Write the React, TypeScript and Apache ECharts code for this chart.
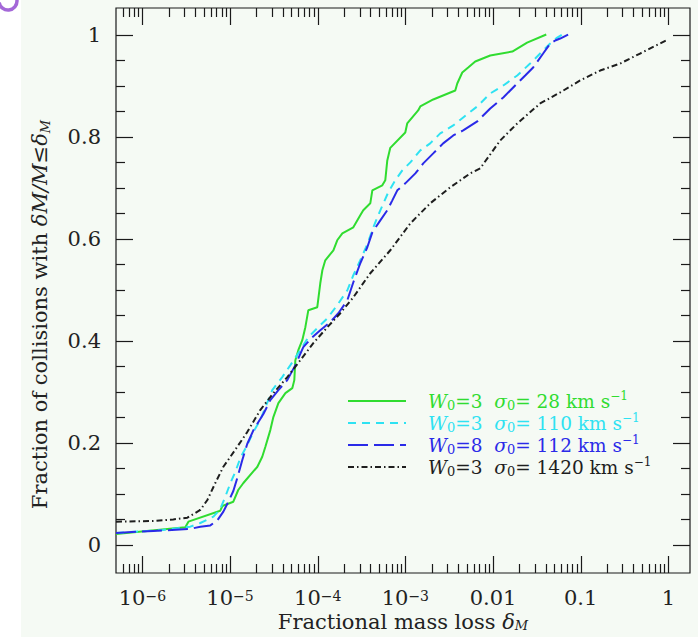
import React, { useEffect, useRef } from 'react';
import * as echarts from 'echarts';

const FONT = 'DejaVu Serif';

// ---- data (x: fractional mass loss, y: cumulative fraction) ----
const greenX = [5e-7, 3.09e-6, 3.35e-6, 7.74e-6, 8.17e-6, 1.09e-5, 1.24e-5, 1.42e-5, 2.05e-5, 2.33e-5, 2.53e-5, 2.88e-5, 3.12e-5, 3.56e-5, 4.28e-5, 5.13e-5, 5.41e-5, 5.56e-5, 6.01e-5, 6.67e-5, 7.23e-5, 7.82e-5, 9.89e-5, 1.07e-4, 1.13e-4, 1.22e-4, 1.51e-4, 1.67e-4, 1.91e-4, 2.55e-4, 3.06e-4, 3.31e-4, 3.98e-4, 4.2e-4, 5.46e-4, 5.9e-4, 6.22e-4, 6.73e-4, 9.98e-4, 1.05e-3, 1.4e-3, 1.48e-3, 2.08e-3, 3.71e-3, 3.91e-3, 4.46e-3, 5.21e-3, 6.27e-3, 9.29e-3, 0.0166, 0.0245, 0.0405];
const greenY = [0.0215, 0.0346, 0.0456, 0.0671, 0.0763, 0.0847, 0.1076, 0.1213, 0.1532, 0.1728, 0.1924, 0.225, 0.2505, 0.2779, 0.2975, 0.3072, 0.3229, 0.362, 0.3816, 0.4012, 0.4266, 0.4599, 0.4658, 0.5127, 0.5382, 0.5577, 0.5773, 0.5969, 0.6106, 0.6223, 0.6458, 0.6556, 0.6693, 0.6947, 0.7045, 0.7143, 0.7534, 0.778, 0.8082, 0.8258, 0.8513, 0.8591, 0.8728, 0.8904, 0.9041, 0.9256, 0.9354, 0.9472, 0.9589, 0.9667, 0.9843, 1.0];

const cyanX = [5e-7, 1.73e-6, 3.52e-6, 4.58e-6, 6.46e-6, 7.74e-6, 8.83e-6, 1.01e-5, 1.15e-5, 1.31e-5, 1.57e-5, 1.85e-5, 2.21e-5, 3.03e-5, 3.94e-5, 4.88e-5, 6.34e-5, 7.82e-5, 9.89e-5, 1.29e-4, 1.67e-4, 2.18e-4, 2.55e-4, 3.06e-4, 3.68e-4, 4.31e-4, 5.18e-4, 6.38e-4, 7.67e-4, 9.23e-4, 1.14e-3, 1.48e-3, 1.92e-3, 2.5e-3, 3.52e-3, 4.57e-3, 6.61e-3, 9.29e-3, 0.0131, 0.0189, 0.0265, 0.0345, 0.0449, 0.054, 0.0615];
const cyanY = [0.0235, 0.0294, 0.0358, 0.043, 0.0554, 0.0704, 0.0945, 0.1213, 0.1434, 0.1703, 0.1957, 0.2217, 0.2446, 0.3033, 0.3288, 0.3523, 0.3816, 0.407, 0.4247, 0.4442, 0.4697, 0.499, 0.5284, 0.5577, 0.589, 0.6223, 0.6556, 0.6908, 0.7143, 0.7339, 0.7495, 0.773, 0.7867, 0.8063, 0.8219, 0.8376, 0.8591, 0.8845, 0.9002, 0.9198, 0.9432, 0.9628, 0.9824, 0.9941, 1.0];

const blueX = [5e-7, 1.33e-6, 3.52e-6, 4.58e-6, 5.96e-6, 7.16e-6, 8.39e-6, 9.57e-6, 1.09e-5, 1.21e-5, 1.38e-5, 1.57e-5, 1.85e-5, 2.4e-5, 2.88e-5, 3.56e-5, 4.5e-5, 5.56e-5, 6.85e-5, 8.67e-5, 1.07e-4, 1.39e-4, 1.72e-4, 2.18e-4, 2.55e-4, 3.06e-4, 3.68e-4, 4.2e-4, 5.18e-4, 6.22e-4, 7.1e-4, 8.09e-4, 9.98e-4, 1.3e-3, 1.6e-3, 2.08e-3, 2.7e-3, 3.52e-3, 4.57e-3, 6.61e-3, 9.29e-3, 0.0131, 0.0179, 0.0233, 0.0287, 0.0373, 0.0449, 0.0512, 0.0583, 0.0719];
const blueY = [0.0235, 0.0274, 0.0313, 0.0358, 0.0382, 0.048, 0.0652, 0.0847, 0.1057, 0.1311, 0.1663, 0.1977, 0.225, 0.2564, 0.2838, 0.3033, 0.3229, 0.3523, 0.3875, 0.407, 0.4207, 0.4364, 0.454, 0.4795, 0.5147, 0.5519, 0.5832, 0.6125, 0.636, 0.6556, 0.6751, 0.6947, 0.7084, 0.728, 0.7476, 0.7671, 0.7867, 0.8023, 0.8121, 0.8297, 0.8552, 0.8767, 0.9002, 0.9198, 0.9354, 0.9628, 0.9824, 0.9883, 0.9922, 1.0];

const blackX = [5e-7, 1.33e-6, 2.25e-6, 3.26e-6, 4.58e-6, 5.51e-6, 6.79e-6, 8.39e-6, 1.01e-5, 1.21e-5, 1.57e-5, 2.21e-5, 3.12e-5, 4.5e-5, 6.34e-5, 8.91e-5, 1.29e-4, 1.81e-4, 2.55e-4, 3.98e-4, 6.73e-4, 1.14e-3, 1.92e-3, 3.25e-3, 5.5e-3, 7.14e-3, 0.0121, 0.0189, 0.0345, 0.0583, 0.0986, 0.167, 0.282, 0.476, 0.942];
const blackY = [0.0456, 0.047, 0.05, 0.0534, 0.0685, 0.0881, 0.1213, 0.1532, 0.1728, 0.1924, 0.2211, 0.2642, 0.2975, 0.3288, 0.362, 0.3953, 0.4266, 0.454, 0.4853, 0.5323, 0.5773, 0.6301, 0.6693, 0.7006, 0.728, 0.7378, 0.7926, 0.8258, 0.865, 0.8865, 0.91, 0.9295, 0.9432, 0.9628, 0.9883];

const seriesNames = ['W0=3 σ0=28 km s-1', 'W0=3 σ0=110 km s-1', 'W0=8 σ0=112 km s-1', 'W0=3 σ0=1420 km s-1'];
const legendLabels = [
  '{gap| }{i|W}{sub|0}=3  {i|σ}{sub|0}= 28 km s{sup|−1}',
  '{gap| }{i|W}{sub|0}=3  {i|σ}{sub|0}= 110 km s{sup|−1}',
  '{gap| }{i|W}{sub|0}=8  {i|σ}{sub|0}= 112 km s{sup|−1}',
  '{gap| }{i|W}{sub|0}=3  {i|σ}{sub|0}= 1420 km s{sup|−1}',
];
const seriesColors = ['#30dc30', '#2ee2f2', '#2a2ae8', '#1e1e1e'];

// ---- ticks ----
const xTickValues = [1e-6, 1e-5, 1e-4, 1e-3, 0.01, 0.1, 1];
const xTickLabels = ['10{sup|−6}', '10{sup|−5}', '10{sup|−4}', '10{sup|−3}', '0.01', '0.1', '1'];
const xMinorTicks = [
  6e-7, 7e-7, 8e-7, 9e-7,
  2e-6, 3e-6, 4e-6, 5e-6, 6e-6, 7e-6, 8e-6, 9e-6,
  2e-5, 3e-5, 4e-5, 5e-5, 6e-5, 7e-5, 8e-5, 9e-5,
  2e-4, 3e-4, 4e-4, 5e-4, 6e-4, 7e-4, 8e-4, 9e-4,
  2e-3, 3e-3, 4e-3, 5e-3, 6e-3, 7e-3, 8e-3, 9e-3,
  0.02, 0.03, 0.04, 0.05, 0.06, 0.07, 0.08, 0.09,
  0.2, 0.3, 0.4, 0.5, 0.6, 0.7, 0.8, 0.9,
];
const yTickValues = [0, 0.2, 0.4, 0.6, 0.8, 1];
const yTickLabels = ['0', '0.2', '0.4', '0.6', '0.8', '1'];
const yMinorTicks = [0.05, 0.1, 0.15, 0.25, 0.3, 0.35, 0.45, 0.5, 0.55, 0.65, 0.7, 0.75, 0.85, 0.9, 0.95];

const X_MIN = 5e-7;
const X_MAX = 1.767;
const Y_MIN = -0.055;
const Y_MAX = 1.052;

const MAJOR_LEN = 17;
const MINOR_LEN = 9;

function zip(xs: number[], ys: number[]) {
  return xs.map((x, i) => [x, ys[i]]);
}

function buildOption(): any {
  const lineTypes: any[] = ['solid', [8, 6], [20, 6], [6, 3, 1.5, 3]];
  const dataSets = [zip(greenX, greenY), zip(cyanX, cyanY), zip(blueX, blueY), zip(blackX, blackY)];

  const lineSeries = dataSets.map((d, i) => ({
    type: 'line',
    name: seriesNames[i],
    data: d,
    symbol: 'none',
    showSymbol: false,
    lineStyle: { color: seriesColors[i], width: 2, type: lineTypes[i] },
    itemStyle: { color: seriesColors[i] },
    z: 3,
    silent: true,
  }));

  const xTickData = [
    ...xTickValues.map((v) => [v, 0.5, 1]),
    ...xMinorTicks.map((v) => [v, 0.5, 0]),
  ];
  const yTickData = [
    ...yTickValues.map((v) => [1e-3, v, 1]),
    ...yMinorTicks.map((v) => [1e-3, v, 0]),
  ];

  const tickStyle = { stroke: '#1a1a1a', lineWidth: 1.2 };

  const xTickSeries = {
    type: 'custom',
    name: 'xticks',
    data: xTickData,
    encode: { x: 0, y: 1 },
    silent: true,
    clip: false,
    z: 6,
    renderItem: (params: any, api: any) => {
      const cs = params.coordSys;
      const px = Math.round(api.coord([api.value(0), api.value(1)])[0]) + 0.5;
      const len = api.value(2) ? MAJOR_LEN : MINOR_LEN;
      const bottom = cs.y + cs.height;
      return {
        type: 'group',
        children: [
          { type: 'line', shape: { x1: px, y1: bottom, x2: px, y2: bottom - len }, style: tickStyle },
          { type: 'line', shape: { x1: px, y1: cs.y, x2: px, y2: cs.y + len }, style: tickStyle },
        ],
      };
    },
  };

  const yTickSeries = {
    type: 'custom',
    name: 'yticks',
    data: yTickData,
    encode: { x: 0, y: 1 },
    silent: true,
    clip: false,
    z: 6,
    renderItem: (params: any, api: any) => {
      const cs = params.coordSys;
      const py = Math.round(api.coord([api.value(0), api.value(1)])[1]) + 0.5;
      const len = api.value(2) ? MAJOR_LEN : MINOR_LEN;
      const right = cs.x + cs.width;
      return {
        type: 'group',
        children: [
          { type: 'line', shape: { x1: cs.x, y1: py, x2: cs.x + len, y2: py }, style: tickStyle },
          { type: 'line', shape: { x1: right, y1: py, x2: right - len, y2: py }, style: tickStyle },
        ],
      };
    },
  };

  return {
    animation: false,
    backgroundColor: '#f5faf4',
    textStyle: { fontFamily: FONT },
    graphic: [
      { type: 'rect', left: 0, top: 0, shape: { x: 0, y: 0, width: 21, height: 637 }, style: { fill: '#ffffff' }, z: -1 },
      {
        type: 'arc',
        shape: { cx: 8, cy: 1, r: 9, startAngle: -Math.PI / 2, endAngle: Math.PI * 0.95 },
        style: { stroke: '#a468d8', lineWidth: 3.5, fill: 'none' },
        z: 10,
      },
    ],
    grid: {
      left: 116,
      top: 8,
      width: 574,
      height: 565,
      containLabel: false,
      outerBoundsMode: 'none',
      show: true,
      borderColor: '#1a1a1a',
      borderWidth: 1.2,
      backgroundColor: 'transparent',
    },
    legend: {
      orient: 'vertical',
      left: 347,
      top: 390,
      padding: 0,
      itemWidth: 58,
      itemHeight: 12,
      itemGap: 0,
      selectedMode: false,
      itemStyle: { color: 'rgba(0,0,0,0)', borderColor: 'rgba(0,0,0,0)', borderWidth: 0, opacity: 0 },
      data: seriesNames.map((n, i) => ({ name: n, textStyle: { color: seriesColors[i] } })),
      formatter: (name: string) => legendLabels[seriesNames.indexOf(name)],
      textStyle: {
        fontFamily: FONT,
        fontSize: 18.5,
        lineHeight: 22,
        rich: {
          gap: { width: 17, fontSize: 18.5, fontFamily: FONT, lineHeight: 22 },
          i: { fontStyle: 'italic', fontSize: 18.5, fontFamily: FONT, lineHeight: 22 },
          sub: { fontSize: 13, fontFamily: FONT, lineHeight: 8, verticalAlign: 'bottom' },
          sup: { fontSize: 12, fontFamily: FONT, lineHeight: 12, verticalAlign: 'top' },
        },
      },
    },
    xAxis: {
      type: 'log',
      logBase: 10,
      min: X_MIN,
      max: X_MAX,
      splitNumber: 7,
      axisLine: { show: false },
      axisTick: { show: false },
      splitLine: { show: false },
      axisLabel: {
        showMinLabel: false,
        showMaxLabel: false,
        fontFamily: FONT,
        fontSize: 21,
        color: '#222',
        margin: 16,
        lineHeight: 18,
        formatter: (v: number) => {
          const i = xTickValues.findIndex((t) => Math.abs(Math.log10(t) - Math.log10(v)) < 1e-6);
          return i >= 0 ? xTickLabels[i] : '';
        },
        rich: {
          sup: { fontSize: 14, fontFamily: FONT, lineHeight: 8, verticalAlign: 'top', color: '#222' },
        },
      },
      name: 'Fractional mass loss {i|δ}{sub|M}',
      nameLocation: 'middle',
      nameGap: 39,
      nameMoveOverlap: false,
      nameTextStyle: {
        fontFamily: FONT,
        fontSize: 21,
        color: '#222',
        lineHeight: 20,
        rich: {
          i: { fontStyle: 'italic', fontSize: 21, fontFamily: FONT, lineHeight: 20, color: '#222' },
          sub: { fontStyle: 'italic', fontSize: 13, fontFamily: FONT, lineHeight: 8, verticalAlign: 'bottom', color: '#222' },
        },
      },
    },
    yAxis: {
      type: 'value',
      min: Y_MIN,
      max: Y_MAX,
      axisLine: { show: false },
      axisTick: { show: false },
      splitLine: { show: false },
      axisLabel: {
        customValues: yTickValues,
        fontFamily: FONT,
        fontSize: 21,
        color: '#222',
        margin: 15,
        formatter: (v: number) => {
          const i = yTickValues.findIndex((t) => Math.abs(t - v) < 1e-9);
          return i >= 0 ? yTickLabels[i] : '';
        },
      },
      name: 'Fraction of collisions with {i|δM/M}≤{i|δ}{sub|M}',
      nameLocation: 'middle',
      nameGap: 64,
      nameTextStyle: {
        fontFamily: FONT,
        fontSize: 21,
        color: '#222',
        lineHeight: 24,
        padding: [0, 48, 0, 0],
        rich: {
          i: { fontStyle: 'italic', fontSize: 21, fontFamily: FONT, lineHeight: 24, color: '#222' },
          sub: { fontStyle: 'italic', fontSize: 13, fontFamily: FONT, lineHeight: 8, verticalAlign: 'bottom', color: '#222' },
        },
      },
    },
    series: [...lineSeries, xTickSeries, yTickSeries],
  };
}

export default function App() {
  const ref = useRef<HTMLDivElement>(null);
  useEffect(() => {
    if (!ref.current) return;
    const chart = echarts.init(ref.current, null, { renderer: 'svg' });
    chart.setOption(buildOption());
    return () => {
      chart.dispose();
    };
  }, []);
  return (
    <div
      ref={ref}
      style={{ position: 'absolute', left: 0, top: 0, width: 698, height: 637 }}
    />
  );
}
